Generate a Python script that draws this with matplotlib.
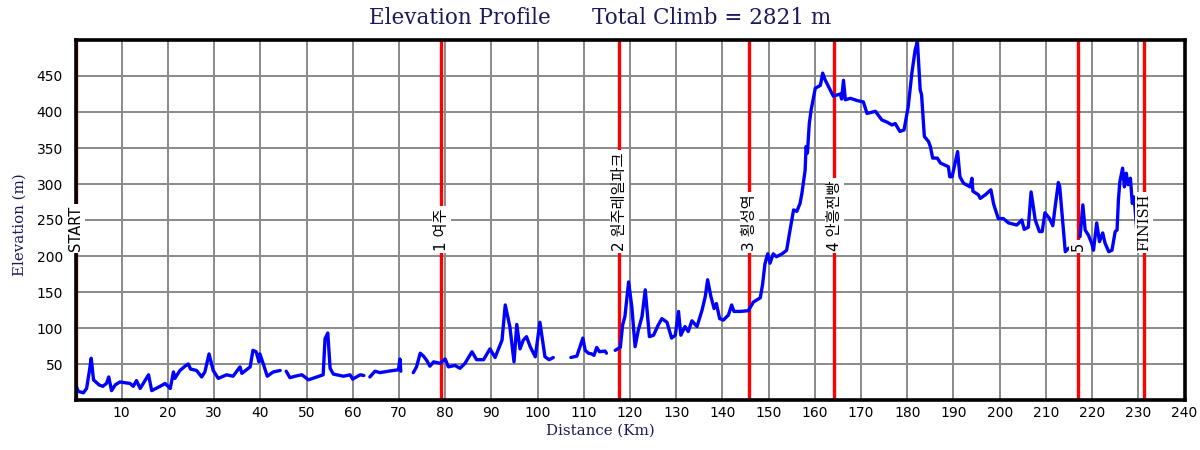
import numpy as np
import matplotlib
matplotlib.use("Agg")
import matplotlib.pyplot as plt

# ---- data ----
nan = np.nan
distance_km = [
    0, 0.6, 1.7, 2.4, 3.0, 3.4, 3.9, 5.1, 5.9, 6.7, 7.2, 7.8, 8.6, 9.6, 11.8, 12.5, 13.2, 14.0,
    15.8, 16.5, 18.3, 19.4, 20.5, 21.2, 21.5, 22.6, 23.9, 24.4, 24.9, 26.2, 27.3, 28.0, 28.9,
    29.8, 30.9, 32.7, 34.1, 35.6, 36.0, 37.8, 38.4, 39.1, 39.7, 39.9, 40.6, 41.5, 42.8, 44.3,
    44.9, 45.6, 46.4, 47.5, 49.0, 50.4, 52.2, 53.6, 54.0, 54.6, 55.1, 55.8, 58.0, 59.4, 60.0,
    61.6, 62.4, 63.0, 63.7, 64.8, 65.9, 67.7, 69.9, 70.2, 70.4, 71.5, 73.1, 73.8, 74.6, 75.3,
    76.0, 76.7, 77.5, 78.9, 80.0, 80.7, 82.1, 83.2, 84.3, 85.8, 86.8, 88.3, 89.7, 90.8, 92.3,
    93.0, 94.0, 94.9, 95.5, 96.2, 96.9, 97.6, 98.4, 99.5, 100.5, 101.6, 102.5, 103.4, 105.0,
    107.2, 108.5, 109.8, 110.3, 111.0, 111.7, 112.2, 112.8, 113.4, 114.6, 114.9, 116.0, 116.8,
    117.9, 118.4, 118.9, 119.7, 120.4, 121.1, 121.8, 122.6, 123.3, 124.2, 125.1, 126.1, 126.9,
    128.0, 129.0, 129.8, 130.5, 131.0, 131.9, 132.6, 133.4, 134.5, 135.6, 136.3, 136.8, 137.5,
    138.2, 138.7, 139.4, 140.2, 141.3, 142.0, 142.5, 143.8, 145.6, 146.7, 148.2, 148.7, 149.2,
    149.8, 150.3, 151.0, 151.7, 152.9, 153.9, 154.5, 155.4, 156.1, 156.8, 157.2, 157.9, 158.1,
    158.4, 158.8, 159.2, 160.1, 161.2, 161.7, 162.2, 163.3, 164.0, 165.5, 165.8, 166.2, 166.6,
    167.7, 169.1, 170.5, 171.3, 173.1, 174.5, 175.6, 176.7, 177.4, 178.4, 179.3, 180.2, 181.0,
    181.7, 182.2, 182.8, 183.1, 183.7, 184.6, 185.0, 185.5, 186.5, 187.2, 188.9, 189.2, 189.7,
    190.9, 191.4, 192.2, 193.6, 194.0, 194.2, 195.4, 195.8, 196.9, 198.1, 198.7, 199.7, 200.8,
    201.9, 203.7, 204.8, 205.3, 206.2, 206.8, 207.7, 208.6, 209.2, 209.8, 210.8, 211.5, 212.0,
    212.7, 213.0, 214.2, 214.8, 215.6, 216.5, 217.4, 218.0, 218.5, 219.2, 219.9, 220.3, 221.0,
    221.6, 222.3, 222.8, 223.6, 224.3, 225.0, 225.4, 225.7, 226.0, 226.6, 227.0, 227.4, 227.8,
    228.3, 228.7, 229.1, 229.8,
]
elevation_m = [
    22, 12, 10, 16, 40, 58, 28, 21, 19, 23, 32, 13, 21, 25, 23, 19, 27, 16,
    35, 13, 19, 23, 16, 39, 30, 41, 48, 50, 43, 41, 32, 39, 64,
    41, 30, 35, 33, 46, 37, 46, 69, 67, 53, 64, 51, 33, 39, 41,
    nan, 40, 31, 33, 35, 28, 32, 35, 85, 93, 44, 36, 33, 35, 29,
    35, 34, nan, 32, 40, 38, 40, 42, 57, 40, nan, 38, 46, 65, 61,
    55, 47, 53, 51, 57, 46, 48, 44, 51, 67, 56, 56, 71, 59, 83,
    132, 102, 53, 105, 71, 83, 88, 74, 60, 108, 60, 56, 59, nan,
    59, 61, 86, 69, 65, 64, 62, 73, 67, 68, 65, nan, 69,
    73, 104, 116, 164, 129, 74, 97, 116, 153, 88, 90, 104, 113,
    108, 86, 90, 123, 90, 102, 95, 110, 102, 125, 144, 167, 144,
    127, 134, 113, 111, 118, 132, 123, 123, 124, 136, 142, 161, 189,
    203, 190, 203, 199, 203, 208, 231, 264, 262, 273, 287, 319, 352,
    343, 384, 403, 433, 437, 454, 445, 431, 422, 425, 418, 444, 417,
    419, 416, 414, 398, 401, 389, 386, 382, 384, 373, 375, 407, 454,
    486, 498, 431, 424, 366, 359, 352, 336, 336, 329, 324, 310, 310,
    345, 310, 301, 296, 308, 290, 285, 280, 285, 292, 272, 252, 252,
    246, 243, 250, 237, 240, 289, 250, 234, 234, 260, 252, 242, 268,
    302, 296, 206, 210, 213, nan, 227, 271, 236, 229, 218, 208, 246,
    220, 232, 218, 206, 208, 234, 236, 278, 303, 322, 296, 315, 299,
    308, 273, 282, 225,
]
checkpoint_km = [0, 79.2, 117.7, 145.8, 164.2, 217.0, 231.3]
checkpoint_labels = ["START", "1 여주", "2 원주레일파크", "3 횡성역", "4 안흥찐빵", "5", "FINISH"]
x_ticks = list(range(10, 241, 10))
y_ticks = list(range(50, 451, 50))
title_text = "Elevation Profile      Total Climb = 2821 m"
x_label = "Distance (Km)"
y_label = "Elevation (m)"

# ---- figure ----
W, H = 1200, 450
fig = plt.figure(figsize=(W / 100, H / 100), dpi=100)
ax = fig.add_axes([75.5 / W, 50 / H, 1109 / W, 360 / H])

navy = "#1a1a5a"
ax.set_xlim(0, 240)
ax.set_ylim(0, 500)
ax.set_xticks(x_ticks)
ax.set_yticks(y_ticks)
ax.tick_params(axis="both", length=0, labelsize=10, colors="black")
ax.tick_params(axis="y", pad=9)
ax.tick_params(axis="x", pad=4)
ax.grid(True, color="#8a8a8a", linewidth=1.4, zorder=0)
ax.set_axisbelow(True)
for s in ax.spines.values():
    s.set_linewidth(2.6)
    s.set_color("black")
    s.set_zorder(5)

for xk in checkpoint_km:
    ax.axvline(xk, color="#ff0000", linewidth=2.4, zorder=3)

ax.plot(distance_km, elevation_m, color="#0000ff", linewidth=2.4, zorder=4,
        solid_joinstyle="round", solid_capstyle="round")

for xk, lab in zip(checkpoint_km, checkpoint_labels):
    if lab == "FINISH":
        fam, fs = ["DejaVu Serif"], 10.5
    elif lab in ("START", "5"):
        fam, fs = ["DejaVu Sans"], 10.5
    else:
        fam, fs = ["DejaVu Sans", "Noto Sans CJK KR"], 11
    ax.text(xk, 207, lab, rotation=90, ha="center", va="bottom", fontsize=fs,
            family=fam, zorder=6, clip_on=False,
            bbox=dict(facecolor="white", edgecolor="none", pad=1.5))

fig.text(0.5, 1 - 18 / H, title_text, ha="center", va="center", fontsize=15.5,
         family="DejaVu Serif", color=navy)
fig.text(0.5, 1 - 431 / H, x_label, ha="center", va="center", fontsize=10.8,
         family="DejaVu Serif", color=navy)
fig.text(20 / W, 1 - 225 / H, y_label, ha="center", va="center", fontsize=10.8,
         rotation=90, family="DejaVu Serif", color=navy)

fig.savefig("out.png", dpi=100)
